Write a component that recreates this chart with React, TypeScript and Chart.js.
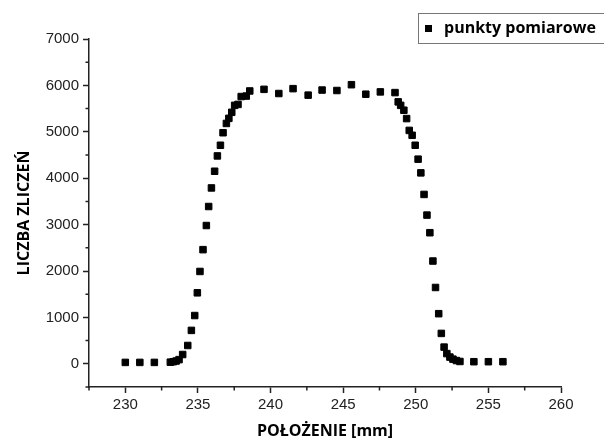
import React, { useEffect, useRef } from 'react';
import { Chart, registerables } from 'chart.js';

Chart.register(...registerables);

const seriesLabel = 'punkty pomiarowe';
const xTitle = 'POŁOŻENIE [mm]';
const yTitle = 'LICZBA ZLICZEŃ';

const positions = [
  230, 231, 232, 233.1, 233.3, 233.5, 233.7, 233.95, 234.3, 234.55,
  234.78, 234.96, 235.14, 235.35, 235.58, 235.74, 235.93, 236.15, 236.34, 236.55,
  236.73, 236.96, 237.13, 237.33, 237.53, 237.76, 237.98, 238.33, 238.57, 239.55,
  240.57, 241.55, 242.59, 243.55, 244.57, 245.57, 246.56, 247.56, 248.57, 248.79,
  248.96, 249.18, 249.37, 249.55, 249.75, 249.96, 250.16, 250.35, 250.57, 250.77,
  250.97, 251.18, 251.36, 251.58, 251.76, 251.95, 252.14, 252.35, 252.56, 252.8,
  253.04, 254, 255, 256,
];

const counts = [
  30, 30, 30, 35, 45, 60, 90, 200, 395, 720,
  1040, 1530, 1990, 2460, 2980, 3390, 3790, 4150, 4480, 4710,
  4980, 5180, 5290, 5420, 5570, 5590, 5760, 5770, 5880, 5915,
  5825, 5930, 5790, 5900, 5890, 6015, 5810, 5860, 5845, 5645,
  5570, 5465, 5285, 5030, 4925, 4710, 4410, 4115, 3650, 3205,
  2825, 2215, 1645, 1080, 655, 360, 220, 145, 100, 70,
  50, 45, 45, 45,
];

const xTickValues = [230, 235, 240, 245, 250, 255, 260];
const xMinorTicks = [227.5, 232.5, 237.5, 242.5, 247.5, 252.5, 257.5];
const yTickValues = [0, 1000, 2000, 3000, 4000, 5000, 6000, 7000];
const yMinorTicks = [-500, 500, 1500, 2500, 3500, 4500, 5500, 6500];

const AXIS = '#222';

const minorTicksPlugin = {
  id: 'minorTicks',
  afterDraw(chart: any) {
    const { ctx, chartArea, scales } = chart;
    const x = scales.x;
    const y = scales.y;
    ctx.save();
    ctx.strokeStyle = AXIS;
    ctx.lineWidth = 1.5;
    ctx.beginPath();
    xMinorTicks.forEach((v) => {
      const px = x.getPixelForValue(v);
      ctx.moveTo(px, chartArea.bottom);
      ctx.lineTo(px, chartArea.bottom + 3.5);
    });
    yMinorTicks.forEach((v) => {
      const py = y.getPixelForValue(v);
      ctx.moveTo(chartArea.left, py);
      ctx.lineTo(chartArea.left - 3.5, py);
    });
    ctx.stroke();
    ctx.restore();
  },
};

const boxLegendPlugin = {
  id: 'boxLegend',
  afterDraw(chart: any) {
    const { ctx } = chart;
    const label = chart.data.datasets[0].label;
    ctx.save();
    ctx.strokeStyle = '#777';
    ctx.lineWidth = 1;
    ctx.strokeRect(418.5, 13.5, 200, 30);
    ctx.fillStyle = '#000';
    ctx.fillRect(425, 25, 7, 7);
    ctx.font = 'bold 16px "Open Sans"';
    ctx.textBaseline = 'middle';
    ctx.textAlign = 'left';
    ctx.fillText(label, 444, 28);
    ctx.restore();
  },
};

export default function App() {
  const canvasRef = useRef<HTMLCanvasElement | null>(null);

  useEffect(() => {
    document.body.style.margin = '0';
    const canvas = canvasRef.current;
    if (!canvas) return;
    const data = positions.map((p, i) => ({ x: p, y: counts[i] }));
    const tickFont = { family: '"Liberation Sans", Arial, sans-serif', size: 15 };
    const titleFont = { family: '"Open Sans", sans-serif', size: 16, weight: 'bold' as const, lineHeight: 1.2 };
    const chart = new Chart(canvas, {
      type: 'scatter',
      data: {
        datasets: [
          {
            label: seriesLabel,
            data,
            pointStyle: 'rect',
            pointRadius: 4.6,
            pointHoverRadius: 4.6,
            backgroundColor: '#000',
            borderColor: '#000',
            borderWidth: 1,
            showLine: false,
          },
        ],
      },
      options: {
        responsive: false,
        animation: false,
        layout: { padding: { left: 0, right: 43, top: 39, bottom: 0 } },
        plugins: {
          legend: { display: false },
          tooltip: { enabled: false },
        },
        scales: {
          x: {
            type: 'linear',
            position: 'bottom',
            min: 227.5,
            max: 260,
            afterBuildTicks: (s: any) => {
              s.ticks = xTickValues.map((v) => ({ value: v }));
            },
            afterFit: (s: any) => {
              s.height = 54;
            },
            ticks: {
              font: tickFont,
              color: AXIS,
              padding: 3,
              maxRotation: 0,
              callback: (v: any) => String(v),
            },
            grid: {
              drawOnChartArea: false,
              drawTicks: true,
              tickLength: 6,
              tickWidth: 1.5,
              tickColor: AXIS,
            },
            border: { display: true, color: AXIS, width: 1.5 },
            title: {
              display: true,
              text: xTitle,
              font: titleFont,
              color: '#000',
              padding: { top: 0, bottom: 0 },
            },
          },
          y: {
            type: 'linear',
            position: 'left',
            min: -500,
            max: 7000,
            afterBuildTicks: (s: any) => {
              s.ticks = yTickValues.map((v) => ({ value: v }));
            },
            afterFit: (s: any) => {
              s.width = 89;
            },
            ticks: {
              font: tickFont,
              color: AXIS,
              padding: 4,
              callback: (v: any) => String(v),
            },
            grid: {
              drawOnChartArea: false,
              drawTicks: true,
              tickLength: 6,
              tickWidth: 1.5,
              tickColor: AXIS,
            },
            border: { display: true, color: AXIS, width: 1.5 },
            title: {
              display: true,
              text: yTitle,
              font: titleFont,
              color: '#000',
              padding: { top: 15, bottom: 0 },
            },
          },
        },
      },
      plugins: [minorTicksPlugin, boxLegendPlugin],
    });
    return () => chart.destroy();
  }, []);

  return (
    <div style={{ position: 'absolute', left: 0, top: 0, width: 604, height: 441, background: '#fff' }}>
      <canvas ref={canvasRef} width={604} height={441} />
    </div>
  );
}
